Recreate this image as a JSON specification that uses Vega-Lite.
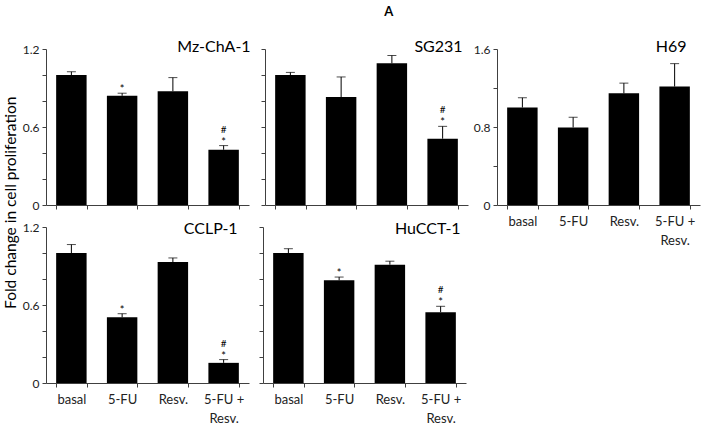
{
  "$schema": "https://vega.github.io/schema/vega-lite/v6.json",
  "padding": {"left": 3, "top": 5, "right": 5, "bottom": 5},
  "data": {
    "values": [
      {"cell": "Mz-ChA-1", "treatment": "basal", "value": 1.0, "hi": 1.025, "star": "", "hash": ""},
      {"cell": "Mz-ChA-1", "treatment": "5-FU", "value": 0.84, "hi": 0.86, "star": "*", "hash": ""},
      {"cell": "Mz-ChA-1", "treatment": "Resv.", "value": 0.875, "hi": 0.98, "star": "", "hash": ""},
      {"cell": "Mz-ChA-1", "treatment": "5-FU + Resv.", "value": 0.425, "hi": 0.457, "star": "*", "hash": "#"},
      {"cell": "SG231", "treatment": "basal", "value": 1.0, "hi": 1.02, "star": "", "hash": ""},
      {"cell": "SG231", "treatment": "5-FU", "value": 0.83, "hi": 0.985, "star": "", "hash": ""},
      {"cell": "SG231", "treatment": "Resv.", "value": 1.09, "hi": 1.15, "star": "", "hash": ""},
      {"cell": "SG231", "treatment": "5-FU + Resv.", "value": 0.51, "hi": 0.605, "star": "*", "hash": "#"},
      {"cell": "H69", "treatment": "basal", "value": 1.0, "hi": 1.1, "star": "", "hash": ""},
      {"cell": "H69", "treatment": "5-FU", "value": 0.795, "hi": 0.9, "star": "", "hash": ""},
      {"cell": "H69", "treatment": "Resv.", "value": 1.145, "hi": 1.25, "star": "", "hash": ""},
      {"cell": "H69", "treatment": "5-FU + Resv.", "value": 1.215, "hi": 1.45, "star": "", "hash": ""},
      {"cell": "CCLP-1", "treatment": "basal", "value": 1.0, "hi": 1.065, "star": "", "hash": ""},
      {"cell": "CCLP-1", "treatment": "5-FU", "value": 0.505, "hi": 0.533, "star": "*", "hash": ""},
      {"cell": "CCLP-1", "treatment": "Resv.", "value": 0.93, "hi": 0.962, "star": "", "hash": ""},
      {"cell": "CCLP-1", "treatment": "5-FU + Resv.", "value": 0.155, "hi": 0.18, "star": "*", "hash": "#"},
      {"cell": "HuCCT-1", "treatment": "basal", "value": 1.0, "hi": 1.033, "star": "", "hash": ""},
      {"cell": "HuCCT-1", "treatment": "5-FU", "value": 0.79, "hi": 0.815, "star": "*", "hash": ""},
      {"cell": "HuCCT-1", "treatment": "Resv.", "value": 0.91, "hi": 0.937, "star": "", "hash": ""},
      {"cell": "HuCCT-1", "treatment": "5-FU + Resv.", "value": 0.545, "hi": 0.59, "star": "*", "hash": "#"}
    ]
  },
  "title": {"text": "A", "anchor": "middle", "fontSize": 13, "fontWeight": "bold", "font": "Lato", "color": "black", "offset": 16, "dx": 37},
  "spacing": 5,
  "hconcat": [
    {
      "title": {"text": "Fold change in cell proliferation", "orient": "left", "anchor": "middle", "fontSize": 15.5, "fontWeight": "normal", "font": "Lato", "color": "black", "offset": 3, "dx": 27},
      "spacing": 10,
      "vconcat": [
        {
          "spacing": 9,
          "hconcat": [
            {
              "width": 203, "height": 156,
              "transform": [{"filter": "datum.cell == 'Mz-ChA-1'"}],
              "encoding": {
                "x": {"field": "treatment", "type": "nominal", "sort": ["basal", "5-FU", "Resv.", "5-FU + Resv."], "title": null, "scale": {"paddingInner": 0.4, "paddingOuter": 0.2}, "axis": {"labels": false}},
                "y": {"field": "value", "type": "quantitative", "title": null, "scale": {"domain": [0, 1.2]}, "axis": {"values": [0, 0.2, 0.4, 0.6, 0.8, 1, 1.2], "format": "~g", "labelExpr": "(datum.value == 0 || datum.value == 0.6 || datum.value == 1.2) ? datum.label : ''"}}
              },
              "layer": [
                {"mark": {"type": "bar", "color": "black"}},
                {"mark": {"type": "rule", "color": "black", "strokeWidth": 1}, "encoding": {"y2": {"field": "hi"}}},
                {"mark": {"type": "tick", "size": 9, "thickness": 1, "color": "black"}, "encoding": {"y": {"field": "hi", "type": "quantitative", "title": null}}},
                {"mark": {"type": "text", "baseline": "alphabetic", "fontSize": 11, "dy": 0}, "encoding": {"y": {"field": "hi", "type": "quantitative", "title": null}, "text": {"field": "star"}}},
                {"mark": {"type": "text", "baseline": "alphabetic", "fontSize": 10, "dy": -13}, "encoding": {"y": {"field": "hi", "type": "quantitative", "title": null}, "text": {"field": "hash"}}},
                {"transform": [{"filter": "datum.treatment == '5-FU + Resv.'"}], "mark": {"type": "text", "align": "right", "baseline": "alphabetic", "fontSize": 16, "dx": 27, "dy": 3}, "encoding": {"y": {"datum": 1.2, "type": "quantitative", "title": null}, "text": {"field": "cell"}}}
              ]
            },
            {
              "width": 203, "height": 156,
              "transform": [{"filter": "datum.cell == 'SG231'"}],
              "encoding": {
                "x": {"field": "treatment", "type": "nominal", "sort": ["basal", "5-FU", "Resv.", "5-FU + Resv."], "title": null, "scale": {"paddingInner": 0.4, "paddingOuter": 0.2}, "axis": {"labels": false}},
                "y": {"field": "value", "type": "quantitative", "title": null, "scale": {"domain": [0, 1.2]}, "axis": {"values": [0, 0.2, 0.4, 0.6, 0.8, 1, 1.2], "labels": false}}
              },
              "layer": [
                {"mark": {"type": "bar", "color": "black"}},
                {"mark": {"type": "rule", "color": "black", "strokeWidth": 1}, "encoding": {"y2": {"field": "hi"}}},
                {"mark": {"type": "tick", "size": 9, "thickness": 1, "color": "black"}, "encoding": {"y": {"field": "hi", "type": "quantitative", "title": null}}},
                {"mark": {"type": "text", "baseline": "alphabetic", "fontSize": 11, "dy": 0}, "encoding": {"y": {"field": "hi", "type": "quantitative", "title": null}, "text": {"field": "star"}}},
                {"mark": {"type": "text", "baseline": "alphabetic", "fontSize": 10, "dy": -13}, "encoding": {"y": {"field": "hi", "type": "quantitative", "title": null}, "text": {"field": "hash"}}},
                {"transform": [{"filter": "datum.treatment == '5-FU + Resv.'"}], "mark": {"type": "text", "align": "right", "baseline": "alphabetic", "fontSize": 16, "dx": 20, "dy": 3}, "encoding": {"y": {"datum": 1.2, "type": "quantitative", "title": null}, "text": {"field": "cell"}}}
              ]
            }
          ]
        },
        {
          "spacing": 9,
          "hconcat": [
            {
              "width": 203, "height": 156,
              "transform": [{"filter": "datum.cell == 'CCLP-1'"}],
              "encoding": {
                "x": {"field": "treatment", "type": "nominal", "sort": ["basal", "5-FU", "Resv.", "5-FU + Resv."], "title": null, "scale": {"paddingInner": 0.4, "paddingOuter": 0.2}, "axis": {"labelExpr": "datum.label == '5-FU + Resv.' ? ['5-FU +', 'Resv.'] : datum.label"}},
                "y": {"field": "value", "type": "quantitative", "title": null, "scale": {"domain": [0, 1.2]}, "axis": {"values": [0, 0.2, 0.4, 0.6, 0.8, 1, 1.2], "format": "~g", "labelExpr": "(datum.value == 0 || datum.value == 0.6 || datum.value == 1.2) ? datum.label : ''"}}
              },
              "layer": [
                {"mark": {"type": "bar", "color": "black"}},
                {"mark": {"type": "rule", "color": "black", "strokeWidth": 1}, "encoding": {"y2": {"field": "hi"}}},
                {"mark": {"type": "tick", "size": 9, "thickness": 1, "color": "black"}, "encoding": {"y": {"field": "hi", "type": "quantitative", "title": null}}},
                {"mark": {"type": "text", "baseline": "alphabetic", "fontSize": 11, "dy": 0}, "encoding": {"y": {"field": "hi", "type": "quantitative", "title": null}, "text": {"field": "star"}}},
                {"mark": {"type": "text", "baseline": "alphabetic", "fontSize": 10, "dy": -13}, "encoding": {"y": {"field": "hi", "type": "quantitative", "title": null}, "text": {"field": "hash"}}},
                {"transform": [{"filter": "datum.treatment == '5-FU + Resv.'"}], "mark": {"type": "text", "align": "right", "baseline": "alphabetic", "fontSize": 16, "dx": 14, "dy": 7}, "encoding": {"y": {"datum": 1.2, "type": "quantitative", "title": null}, "text": {"field": "cell"}}}
              ]
            },
            {
              "width": 203, "height": 156,
              "transform": [{"filter": "datum.cell == 'HuCCT-1'"}],
              "encoding": {
                "x": {"field": "treatment", "type": "nominal", "sort": ["basal", "5-FU", "Resv.", "5-FU + Resv."], "title": null, "scale": {"paddingInner": 0.4, "paddingOuter": 0.2}, "axis": {"labelExpr": "datum.label == '5-FU + Resv.' ? ['5-FU +', 'Resv.'] : datum.label"}},
                "y": {"field": "value", "type": "quantitative", "title": null, "scale": {"domain": [0, 1.2]}, "axis": {"values": [0, 0.2, 0.4, 0.6, 0.8, 1, 1.2], "labels": false}}
              },
              "layer": [
                {"mark": {"type": "bar", "color": "black"}},
                {"mark": {"type": "rule", "color": "black", "strokeWidth": 1}, "encoding": {"y2": {"field": "hi"}}},
                {"mark": {"type": "tick", "size": 9, "thickness": 1, "color": "black"}, "encoding": {"y": {"field": "hi", "type": "quantitative", "title": null}}},
                {"mark": {"type": "text", "baseline": "alphabetic", "fontSize": 11, "dy": 0}, "encoding": {"y": {"field": "hi", "type": "quantitative", "title": null}, "text": {"field": "star"}}},
                {"mark": {"type": "text", "baseline": "alphabetic", "fontSize": 10, "dy": -13}, "encoding": {"y": {"field": "hi", "type": "quantitative", "title": null}, "text": {"field": "hash"}}},
                {"transform": [{"filter": "datum.treatment == '5-FU + Resv.'"}], "mark": {"type": "text", "align": "right", "baseline": "alphabetic", "fontSize": 16, "dx": 20, "dy": 7}, "encoding": {"y": {"datum": 1.2, "type": "quantitative", "title": null}, "text": {"field": "cell"}}}
              ]
            }
          ]
        }
      ]
    },
    {
      "width": 203, "height": 156,
      "transform": [{"filter": "datum.cell == 'H69'"}],
      "encoding": {
        "x": {"field": "treatment", "type": "nominal", "sort": ["basal", "5-FU", "Resv.", "5-FU + Resv."], "title": null, "scale": {"paddingInner": 0.4, "paddingOuter": 0.2}, "axis": {"labelExpr": "datum.label == '5-FU + Resv.' ? ['5-FU +', 'Resv.'] : datum.label"}},
        "y": {"field": "value", "type": "quantitative", "title": null, "scale": {"domain": [0, 1.6]}, "axis": {"values": [0, 0.4, 0.8, 1.2, 1.6], "format": "~g", "labelExpr": "(datum.value == 0 || datum.value == 0.8 || datum.value == 1.6) ? datum.label : ''"}}
      },
      "layer": [
        {"mark": {"type": "bar", "color": "black"}},
        {"mark": {"type": "rule", "color": "black", "strokeWidth": 1}, "encoding": {"y2": {"field": "hi"}}},
        {"mark": {"type": "tick", "size": 9, "thickness": 1, "color": "black"}, "encoding": {"y": {"field": "hi", "type": "quantitative", "title": null}}},
        {"transform": [{"filter": "datum.treatment == '5-FU + Resv.'"}], "mark": {"type": "text", "align": "right", "baseline": "alphabetic", "fontSize": 16, "dx": 12, "dy": 3}, "encoding": {"y": {"datum": 1.6, "type": "quantitative", "title": null}, "text": {"field": "cell"}}}
      ]
    }
  ],
  "config": {
    "font": "Lato",
    "view": {"stroke": null},
    "text": {"color": "black", "font": "Lato"},
    "axis": {"grid": false, "domainColor": "#404040", "tickColor": "#404040", "labelColor": "#222222", "labelFont": "Lato", "labelFontSize": 12, "tickSize": 4, "minExtent": 0, "domainWidth": 1, "tickWidth": 1},
    "axisX": {"tickBand": "extent", "labelAngle": 0, "labelPadding": 6, "labelFontSize": 13, "labelLineHeight": 19, "labelOverlap": false, "labelLimit": 0},
    "axisY": {"labelPadding": 3}
  }
}
